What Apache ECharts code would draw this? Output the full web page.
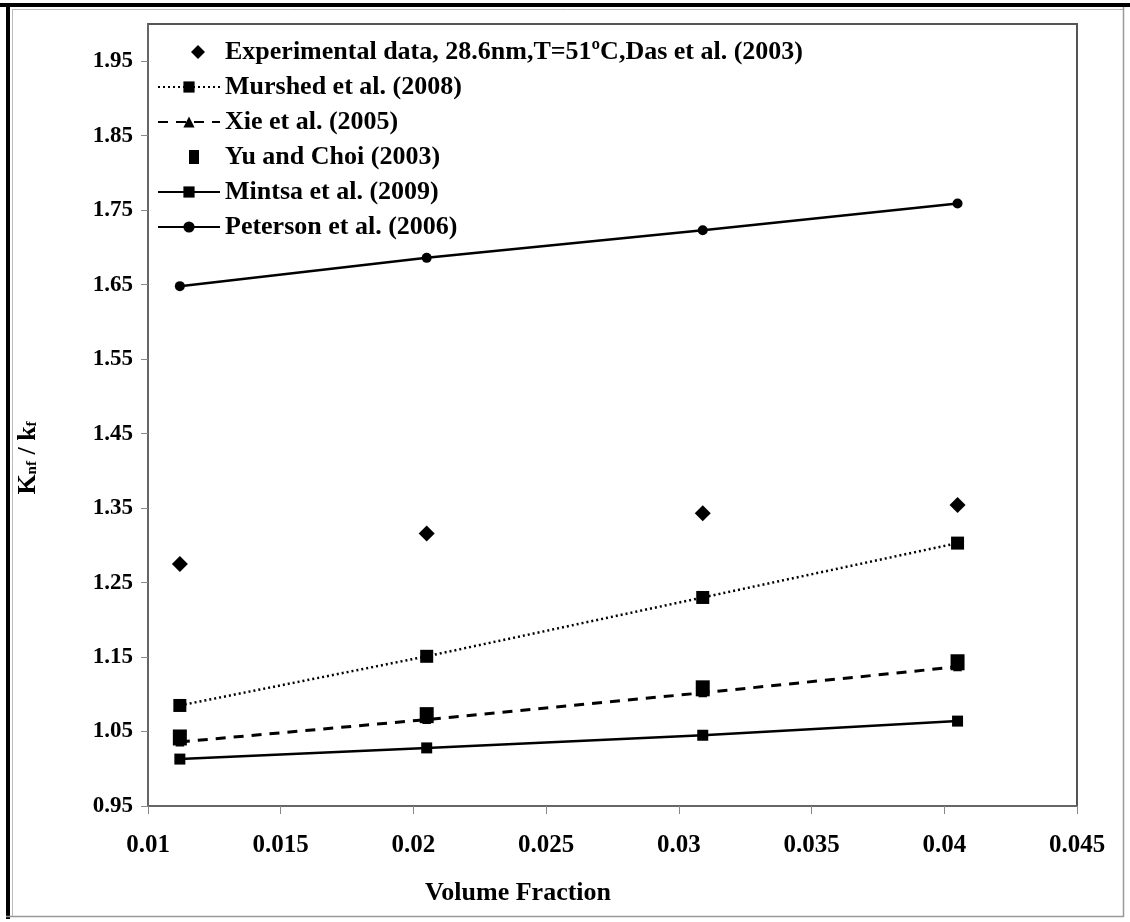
<!DOCTYPE html>
<html>
<head>
<meta charset="utf-8">
<script src="https://cdn.jsdelivr.net/npm/echarts@6/dist/echarts.min.js"></script>
<style>
  html, body { margin: 0; padding: 0; background: #fff; }
  #chart { width: 1130px; height: 922px; }
</style>
</head>
<body>
<div id="chart"></div>
<script>
// Volume fraction of nanoparticles (x) for every data set
const volumeFraction = [0.0112, 0.0205, 0.0309, 0.0405];

// Thermal conductivity ratio knf/kf
const experimental = [1.275, 1.316, 1.343, 1.354];
const murshed = [1.085, 1.151, 1.230, 1.303];
const xie = [1.036, 1.066, 1.102, 1.137];
const yuChoi = [1.042, 1.072, 1.108, 1.143];
const mintsa = [1.013, 1.028, 1.045, 1.064];
const peterson = [1.648, 1.686, 1.723, 1.759];

// Axis tick values
const xTicks = [0.01, 0.015, 0.02, 0.025, 0.03, 0.035, 0.04, 0.045];
const yTicks = [0.95, 1.05, 1.15, 1.25, 1.35, 1.45, 1.55, 1.65, 1.75, 1.85, 1.95];

const FONT = '"Liberation Serif", "Times New Roman", serif';
const pairs = ys => volumeFraction.map((x, i) => [x, ys[i]]);

// Legend icons for marker-only series, drawn inside a 62x14 box so they keep their shape
const DIAMOND_ICON = 'path://M0,0M62,14M40,0L47,7L40,14L33,7Z';
const SQUARE_ICON = 'path://M0,0M62,14M31,0L41,0L41,14L31,14Z';

const chart = echarts.init(document.getElementById('chart'), null, { renderer: 'canvas' });

chart.setOption({
  animation: false,
  backgroundColor: '#ffffff',
  grid: {
    left: 148, top: 24, right: 53, bottom: 116,
    show: true, borderColor: '#555', borderWidth: 2
  },
  legend: {
    orient: 'vertical',
    left: 152, top: 34,
    itemWidth: 62, itemHeight: 14, itemGap: 9,
    textStyle: { fontFamily: FONT, fontWeight: 'bold', fontSize: 26, color: '#000' },
    data: [
      { name: 'Experimental data, 28.6nm,T=51ºC,Das et al. (2003)', icon: DIAMOND_ICON },
      'Murshed et al. (2008)',
      'Xie et al. (2005)',
      { name: 'Yu and Choi (2003)', icon: SQUARE_ICON },
      'Mintsa et al. (2009)',
      'Peterson et al. (2006)'
    ]
  },
  xAxis: {
    type: 'value',
    min: 0.01, max: 0.045, interval: 0.005,
    axisLine: { show: true, lineStyle: { color: '#666', width: 2 } },
    axisTick: { show: true, length: 8, customValues: xTicks, lineStyle: { color: '#888' } },
    axisLabel: {
      customValues: xTicks,
      margin: 27,
      formatter: v => String(+(+v).toFixed(3)),
      fontFamily: FONT, fontWeight: 'bold', fontSize: 25, color: '#000'
    },
    splitLine: { show: false }
  },
  yAxis: {
    type: 'value',
    min: 0.95, max: 2.0,
    axisLine: { show: true, lineStyle: { color: '#666', width: 2 } },
    axisTick: { show: true, length: 7, customValues: yTicks, lineStyle: { color: '#888' } },
    axisLabel: {
      customValues: yTicks,
      margin: 15,
      formatter: v => (+v).toFixed(2),
      fontFamily: FONT, fontWeight: 'bold', fontSize: 23, color: '#000'
    },
    splitLine: { show: false }
  },
  series: [
    {
      name: 'Experimental data, 28.6nm,T=51ºC,Das et al. (2003)',
      type: 'scatter',
      data: pairs(experimental),
      symbol: 'diamond', symbolSize: 16,
      itemStyle: { color: '#000', opacity: 1 }
    },
    {
      name: 'Murshed et al. (2008)',
      type: 'line',
      data: pairs(murshed),
      symbol: 'rect', symbolSize: 13,
      itemStyle: { color: '#000' },
      lineStyle: { color: '#000', width: 2.5, type: [2, 3] }
    },
    {
      name: 'Xie et al. (2005)',
      type: 'line',
      data: pairs(xie),
      symbol: 'triangle', symbolSize: 9,
      itemStyle: { color: '#000' },
      lineStyle: { color: '#000', width: 3, type: [10, 8] }
    },
    {
      name: 'Yu and Choi (2003)',
      type: 'scatter',
      data: pairs(yuChoi),
      symbol: 'rect', symbolSize: [14, 16],
      itemStyle: { color: '#000', opacity: 1 }
    },
    {
      name: 'Mintsa et al. (2009)',
      type: 'line',
      data: pairs(mintsa),
      symbol: 'rect', symbolSize: 11,
      itemStyle: { color: '#000' },
      lineStyle: { color: '#000', width: 2.5 }
    },
    {
      name: 'Peterson et al. (2006)',
      type: 'line',
      data: pairs(peterson),
      symbol: 'circle', symbolSize: 10,
      itemStyle: { color: '#000' },
      lineStyle: { color: '#000', width: 2.5 }
    }
  ],
  graphic: [
    // outer frame
    { type: 'rect', shape: { x: 0, y: 3, width: 1130, height: 4 }, style: { fill: '#000' }, silent: true },
    { type: 'rect', shape: { x: 6, y: 3, width: 4, height: 916 }, style: { fill: '#000' }, silent: true },
    { type: 'line', shape: { x1: 12, y1: 9.5, x2: 1123, y2: 9.5 }, style: { stroke: '#bbb', lineWidth: 1 }, silent: true },
    { type: 'line', shape: { x1: 12.5, y1: 9, x2: 12.5, y2: 916 }, style: { stroke: '#bbb', lineWidth: 1 }, silent: true },
    { type: 'line', shape: { x1: 1123.5, y1: 7, x2: 1123.5, y2: 917 }, style: { stroke: '#999', lineWidth: 1.5 }, silent: true },
    { type: 'line', shape: { x1: 6, y1: 916.5, x2: 1124, y2: 916.5 }, style: { stroke: '#999', lineWidth: 1.5 }, silent: true },
    // axis titles
    {
      type: 'text', x: 518, y: 893, silent: true,
      style: {
        text: 'Volume Fraction', align: 'center', verticalAlign: 'middle',
        fontFamily: FONT, fontWeight: 'bold', fontSize: 26, fill: '#000'
      }
    },
    {
      type: 'text', x: 28, y: 458, rotation: Math.PI / 2, silent: true,
      style: {
        text: '{b|K}{s|nf}{b| / k}{s|f}', align: 'center', verticalAlign: 'middle',
        rich: {
          b: { fontFamily: FONT, fontWeight: 'bold', fontSize: 26, fill: '#000' },
          s: { fontFamily: FONT, fontWeight: 'bold', fontSize: 15, fill: '#000', padding: [9, 0, 0, 0] }
        }
      }
    }
  ]
});
</script>
</body>
</html>
